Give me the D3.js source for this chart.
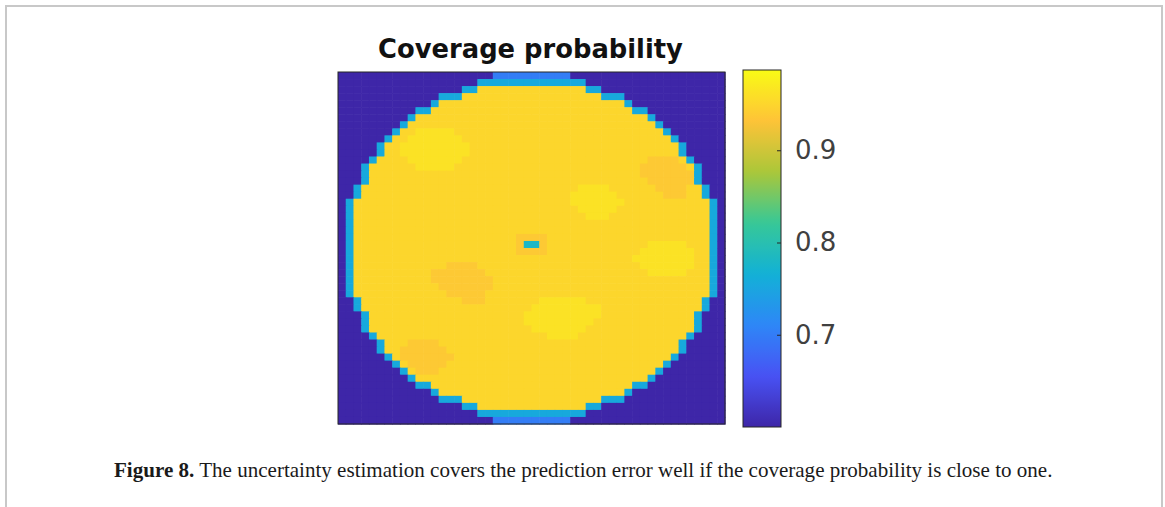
<!DOCTYPE html>
<html>
<head>
<meta charset="utf-8">
<script src="https://cdn.jsdelivr.net/npm/d3@7"></script>
<style>
  html, body { margin: 0; padding: 0; background: #fff; overflow: hidden; }
</style>
</head>
<body>
<svg id="chart" width="1165" height="507"></svg>
<script>
const title = "Coverage probability";
const captionLabel = "Figure 8.";
const captionText = " The uncertainty estimation covers the prediction error well if the coverage probability is close to one.";

const colorTicks = [0.7, 0.8, 0.9];
const colorDomain = [0.6, 0.987];

// parula colour stops (evenly spaced over the colour domain)
const parulaStops = ["#3e26a8", "#4852f4", "#2e87f7", "#12b1d6", "#37c897", "#abc739", "#fec338", "#f9fb15"];

// cell code -> coverage value
const levelKeys = [".", "a", "b", "x", "e", "f", "g"];
const levelValues = [0.55, 0.7, 0.755, 0.78, 0.938, 0.95, 0.962];

// 50 x 50 grid, run-length coded per row
const gridRows = [
  "20.10a20.",
  "18.14b18.",
  "16.2b14f2b16.",
  "13.3b18f3b13.",
  "12.1b24f1b12.",
  "10.2b26f2b10.",
  "9.1b30f1b9.",
  "8.1b32f1b8.",
  "7.1b2f5g27f1b7.",
  "6.1b2f7g27f1b6.",
  "5.1b2f9g27f1b5.",
  "5.1b2f9g27f1b5.",
  "4.1b4f7g24f4e1f1b4.",
  "3.1b6f5g24f6e1f1b3.",
  "3.1b35f7e1b3.",
  "3.1b36f6e1b3.",
  "2.1b28f4g6f4e2f1b2.",
  "2.1b27f6g6f3e2f1b2.",
  "1.1b28f7g11f1b1.",
  "1.1b29f5g12f1b1.",
  "1.1b30f3g13f1b1.",
  "1.1b46f1b1.",
  "1.1b46f1b1.",
  "1.1b21f4e21f1b1.",
  "1.1b21f1e2x1e13f5g3f1b1.",
  "1.1b21f4e12f7g2f1b1.",
  "1.1b36f8g2f1b1.",
  "1.1b12f4e21f7g2f1b1.",
  "1.1b10f7e21f5g3f1b1.",
  "1.1b10f8e28f1b1.",
  "1.1b11f7e28f1b1.",
  "1.1b12f5e29f1b1.",
  "2.1b13f3e7f6g15f1b2.",
  "2.1b22f9g13f1b2.",
  "3.1b20f10g12f1b3.",
  "3.1b20f9g13f1b3.",
  "3.1b21f7g14f1b3.",
  "4.1b22f4g14f1b4.",
  "5.1b3f4e31f1b5.",
  "5.1b2f6e30f1b5.",
  "6.1b1f7e28f1b6.",
  "7.1b1f5e28f1b7.",
  "8.1b1f3e28f1b8.",
  "9.1b30f1b9.",
  "10.2b26f2b10.",
  "12.1b24f1b12.",
  "13.3b18f3b13.",
  "16.2b14f2b16.",
  "18.14b18.",
  "20.10a20."
];

const svg = d3.select("#chart");

// page frame (open at the bottom)
svg.append("path")
  .attr("d", "M6,507V6H1162V507")
  .attr("fill", "none")
  .attr("stroke", "#c8c8c8")
  .attr("stroke-width", 2);

function decodeRow(s) {
  const out = [];
  for (const m of s.matchAll(/(\d+)(\D)/g)) {
    for (let i = 0; i < +m[1]; i++) out.push(m[2]);
  }
  return out;
}

const levelOf = new Map(levelKeys.map((k, i) => [k, levelValues[i]]));
const cells = [];
gridRows.forEach((s, r) => {
  decodeRow(s).forEach((k, c) => cells.push({ r: r, c: c, v: levelOf.get(k) }));
});

const nCols = 50;
const nRows = gridRows.length;

const color = d3.scaleLinear()
  .domain(parulaStops.map((d, i) => colorDomain[0] + (i / (parulaStops.length - 1)) * (colorDomain[1] - colorDomain[0])))
  .range(parulaStops)
  .interpolate(d3.interpolateRgb)
  .clamp(true);

// heatmap
const xScale = d3.scaleBand().domain(d3.range(nCols)).range([338, 725]);
const yScale = d3.scaleBand().domain(d3.range(nRows)).range([72, 424]);

const heat = svg.append("g");
heat.selectAll("rect")
  .data(cells)
  .join("rect")
  .attr("x", (d) => xScale(d.c))
  .attr("y", (d) => yScale(d.r))
  .attr("width", xScale.bandwidth() + 0.6)
  .attr("height", yScale.bandwidth() + 0.6)
  .attr("fill", (d) => color(d.v));

heat.append("rect")
  .attr("x", 338)
  .attr("y", 72)
  .attr("width", 725 - 338)
  .attr("height", 424 - 72)
  .attr("fill", "none")
  .attr("stroke", "#262626")
  .attr("stroke-width", 1);

// title
const titleText = svg.append("text")
  .attr("x", 530.5)
  .attr("y", 58)
  .attr("text-anchor", "middle")
  .attr("font-family", "DejaVu Sans")
  .attr("font-weight", "bold")
  .attr("font-size", 22)
  .attr("fill", "#111")
  .text(title);

// colorbar
const cbX = 743;
const cbW = 38;
const cbScale = d3.scaleLinear().domain(colorDomain).range([427, 70]);

const grad = svg.append("defs").append("linearGradient")
  .attr("id", "cbGrad")
  .attr("x1", 0).attr("y1", 1).attr("x2", 0).attr("y2", 0);
grad.selectAll("stop")
  .data(d3.range(0, 1.0001, 0.02))
  .join("stop")
  .attr("offset", (d) => d)
  .attr("stop-color", (d) => color(colorDomain[0] + d * (colorDomain[1] - colorDomain[0])));

svg.append("rect")
  .attr("x", cbX)
  .attr("y", cbScale(colorDomain[1]))
  .attr("width", cbW)
  .attr("height", cbScale(colorDomain[0]) - cbScale(colorDomain[1]))
  .attr("fill", "url(#cbGrad)")
  .attr("stroke", "#262626")
  .attr("stroke-width", 1);

const cbAxis = d3.axisRight(cbScale)
  .tickValues(colorTicks)
  .tickSize(-4)
  .tickPadding(14)
  .tickFormat(d3.format(".1f"));

const cbAxisGroup = svg.append("g")
  .attr("transform", `translate(${cbX + cbW},0)`)
  .call(cbAxis);
cbAxisGroup.select(".domain").remove();
cbAxisGroup.selectAll("line").attr("stroke", "#262626");
cbAxisGroup.selectAll("text")
  .attr("font-family", "DejaVu Sans")
  .attr("font-size", 26)
  .attr("fill", "#404040");

// caption
const caption = svg.append("text")
  .attr("x", 114)
  .attr("y", 477)
  .attr("font-family", "Liberation Serif")
  .attr("font-size", 19)
  .attr("fill", "#1a1a1a");
caption.append("tspan").attr("font-weight", "bold").text(captionLabel);
caption.append("tspan").text(captionText);

function fitWidth(sel, target) {
  const w = sel.node().getComputedTextLength();
  const fs = Number.parseFloat(sel.attr("font-size"));
  if (w > 0) sel.attr("font-size", (fs * target) / w);
}
fitWidth(titleText, 305);
fitWidth(caption, 939);
</script>
</body>
</html>
